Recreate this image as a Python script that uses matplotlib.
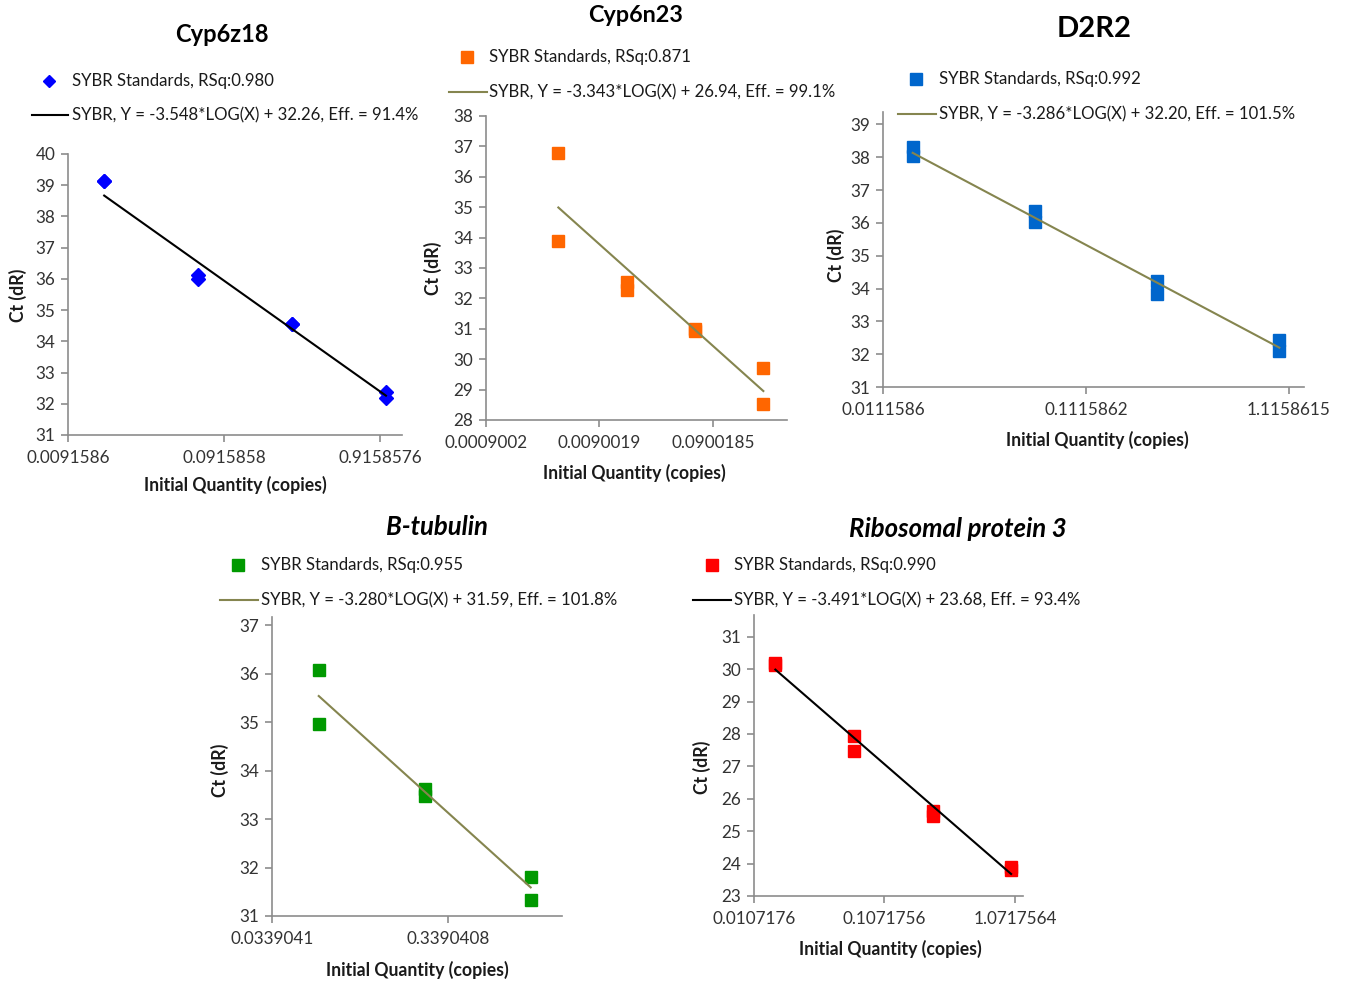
import numpy as np
import matplotlib
matplotlib.use("Agg")
import matplotlib.pyplot as plt
from matplotlib.lines import Line2D
from matplotlib.ticker import FixedLocator, FixedFormatter, NullLocator

# ---------------- data ----------------
titles = ["Cyp6z18", "Cyp6n23", "D2R2", "B-tubulin", "Ribosomal protein 3"]

c1_x = [1/64, 1/64, 1/16, 1/16, 1/4, 1/4, 1.0, 1.0]
c1_y = [39.15, 39.12, 36.13, 36.00, 34.57, 34.55, 32.37, 32.20]
c1_fit = (-3.548, 32.26)
c1_ticks = [0.0091586, 0.0915858, 0.9158576]
c1_ticklabels = ["0.0091586", "0.0915858", "0.9158576"]
c1_leg = ["SYBR Standards, RSq:0.980", "SYBR, Y = -3.548*LOG(X) + 32.26, Eff. = 91.4%"]

c2_x = [1/256, 1/256, 1/64, 1/64, 1/16, 1/16, 1/4, 1/4]
c2_y = [36.78, 33.89, 32.55, 32.28, 30.98, 30.93, 29.71, 28.54]
c2_fit = (-3.343, 26.94)
c2_ticks = [0.0009002, 0.0090019, 0.0900185]
c2_ticklabels = ["0.0009002", "0.0090019", "0.0900185"]
c2_leg = ["SYBR Standards, RSq:0.871", "SYBR, Y = -3.343*LOG(X) + 26.94, Eff. = 99.1%"]

c3_x = [1/64, 1/64, 1/16, 1/16, 1/4, 1/4, 1.0, 1.0]
c3_y = [38.30, 38.03, 36.37, 36.02, 34.24, 33.84, 32.44, 32.10]
c3_fit = (-3.286, 32.20)
c3_ticks = [0.0111586, 0.1115862, 1.1158615]
c3_ticklabels = ["0.0111586", "0.1115862", "1.1158615"]
c3_leg = ["SYBR Standards, RSq:0.992", "SYBR, Y = -3.286*LOG(X) + 32.20, Eff. = 101.5%"]

c4_x = [1/16, 1/16, 1/4, 1/4, 1.0, 1.0]
c4_y = [36.07, 34.97, 33.63, 33.47, 31.81, 31.32]
c4_fit = (-3.280, 31.59)
c4_ticks = [0.0339041, 0.3390408]
c4_ticklabels = ["0.0339041", "0.3390408"]
c4_leg = ["SYBR Standards, RSq:0.955", "SYBR, Y = -3.280*LOG(X) + 31.59, Eff. = 101.8%"]

c5_x = [1/64, 1/64, 1/16, 1/16, 1/4, 1/4, 1.0, 1.0]
c5_y = [30.20, 30.13, 27.94, 27.46, 25.63, 25.47, 23.90, 23.80]
c5_fit = (-3.491, 23.68)
c5_ticks = [0.0107176, 0.1071756, 1.0717564]
c5_ticklabels = ["0.0107176", "0.1071756", "1.0717564"]
c5_leg = ["SYBR Standards, RSq:0.990", "SYBR, Y = -3.491*LOG(X) + 23.68, Eff. = 93.4%"]

# ---------------- styling / layout ----------------
W, H = 1350, 983
plt.rcParams['font.family'] = ['Lato', 'DejaVu Sans']
fig = plt.figure(figsize=(W / 100, H / 100), dpi=100)
fig.patch.set_facecolor("white")

AXC = "#8c8c8c"
TXT = "#1a1a1a"
TICKC = "#333333"
OLIVE = "#85854f"

def fx(x):
    return x / W

def fy(y):
    return 1 - y / H

panels = [
    dict(x=c1_x, y=c1_y, fit=c1_fit, ticks=c1_ticks, tl=c1_ticklabels, leg=c1_leg,
         box=(68, 402, 154, 435), decade=156, ylim=(31, 40),
         marker="D", ms=7, mc="#0000ff", lc="black",
         title=titles[0], tpos=(222, 35), tsize=17, tstyle="normal",
         legy=(81, 115), legmx=49, legl=(32, 68), legtx=72,
         ylab=(18, 295), xlab=(235, 485)),
    dict(x=c2_x, y=c2_y, fit=c2_fit, ticks=c2_ticks, tl=c2_ticklabels, leg=c2_leg,
         box=(486, 787, 116, 420), decade=113.5, ylim=(28, 38),
         marker="s", ms=8.5, mc="#ff6600", lc=OLIVE,
         title=titles[1], tpos=(636, 16), tsize=16.8, tstyle="normal",
         legy=(57, 92), legmx=467, legl=(449, 487), legtx=489,
         ylab=(433, 268), xlab=(634, 473)),
    dict(x=c3_x, y=c3_y, fit=c3_fit, ticks=c3_ticks, tl=c3_ticklabels, leg=c3_leg,
         box=(883, 1304, 112, 387), decade=203, ylim=(31, 39.38),
         marker="s", ms=8.5, mc="#0066cc", lc=OLIVE,
         title=titles[2], tpos=(1094, 29), tsize=21, tstyle="normal",
         legy=(79, 114), legmx=916, legl=(898, 936), legtx=939,
         ylab=(836, 255), xlab=(1097, 440)),
    dict(x=c4_x, y=c4_y, fit=c4_fit, ticks=c4_ticks, tl=c4_ticklabels, leg=c4_leg,
         box=(272, 562, 617, 916), decade=176, ylim=(31, 37.17),
         marker="s", ms=8.5, mc="#009900", lc=OLIVE,
         title=titles[3], tpos=(437, 527), tsize=18.5, tstyle="italic",
         legy=(565, 600), legmx=238, legl=(220, 258), legtx=261,
         ylab=(220, 770), xlab=(417, 970)),
    dict(x=c5_x, y=c5_y, fit=c5_fit, ticks=c5_ticks, tl=c5_ticklabels, leg=c5_leg,
         box=(754, 1023, 615, 896), decade=130.5, ylim=(23, 31.67),
         marker="s", ms=8.5, mc="#ff0000", lc="black",
         title=titles[4], tpos=(958, 529), tsize=18.5, tstyle="italic",
         legy=(565, 600), legmx=712, legl=(693, 731), legtx=734,
         ylab=(702, 767), xlab=(890, 949)),
]

FS_TICK = 12.3
FS_LEG = 12.1
FS_LAB = 12.7

for p in panels:
    l, r, t, b = p["box"]
    ax = fig.add_axes([fx(l), fy(b), (r - l) / W, (b - t) / H])
    ax.set_xscale("log")
    xmin = p["ticks"][0]
    xmax = xmin * 10 ** ((r - l) / p["decade"])
    ax.set_xlim(xmin, xmax)
    ax.set_ylim(*p["ylim"])
    for s in ["top", "right"]:
        ax.spines[s].set_visible(False)
    for s in ["left", "bottom"]:
        ax.spines[s].set_color(AXC)
        ax.spines[s].set_linewidth(1.2)
    ax.xaxis.set_major_locator(FixedLocator(p["ticks"]))
    ax.xaxis.set_major_formatter(FixedFormatter(p["tl"]))
    ax.xaxis.set_minor_locator(NullLocator())
    y0 = int(np.ceil(p["ylim"][0]))
    y1 = int(np.floor(p["ylim"][1]))
    ax.set_yticks(range(y0, y1 + 1))
    ax.tick_params(axis="both", direction="out", length=5, width=1.2, color=AXC,
                   labelcolor=TICKC, labelsize=FS_TICK)
    ax.tick_params(axis="x", pad=6)
    ax.tick_params(axis="y", pad=4)
    ax.set_facecolor("none")

    # fit line
    fx_pts = np.array([min(p["x"]), max(p["x"])])
    slope, icpt = p["fit"]
    ax.plot(fx_pts, slope * np.log10(fx_pts) + icpt, color=p["lc"], lw=1.5, zorder=3)
    # points
    ax.plot(p["x"], p["y"], linestyle="none", marker=p["marker"], ms=p["ms"],
            mfc=p["mc"], mec=p["mc"], zorder=2, clip_on=False)

    # title
    tx, ty = p["tpos"]
    fig.text(fx(tx), fy(ty), p["title"], ha="center", va="center", fontsize=p["tsize"],
             fontweight="bold", style=p["tstyle"], color="black")
    # legend
    ly1, ly2 = p["legy"]
    fig.add_artist(Line2D([fx(p["legmx"])], [fy(ly1)], marker=p["marker"],
                          ms=p["ms"] * (0.85 if p["marker"] == "D" else 0.95),
                          mfc=p["mc"], mec=p["mc"], linestyle="none"))
    fig.text(fx(p["legtx"]), fy(ly1), p["leg"][0], ha="left", va="center",
             fontsize=FS_LEG, color=TXT)
    fig.add_artist(Line2D([fx(p["legl"][0]), fx(p["legl"][1])], [fy(ly2), fy(ly2)],
                          color=p["lc"], lw=1.5))
    fig.text(fx(p["legtx"]), fy(ly2), p["leg"][1], ha="left", va="center",
             fontsize=FS_LEG, color=TXT)
    # axis labels
    fig.text(fx(p["ylab"][0]), fy(p["ylab"][1]), "Ct (dR)", rotation=90, ha="center",
             va="center", fontsize=FS_LAB, fontweight="bold", color=TXT)
    fig.text(fx(p["xlab"][0]), fy(p["xlab"][1]), "Initial Quantity (copies)", ha="center",
             va="center", fontsize=FS_LAB, fontweight="bold", color=TXT)

fig.savefig("out.png", dpi=100, facecolor="white")
